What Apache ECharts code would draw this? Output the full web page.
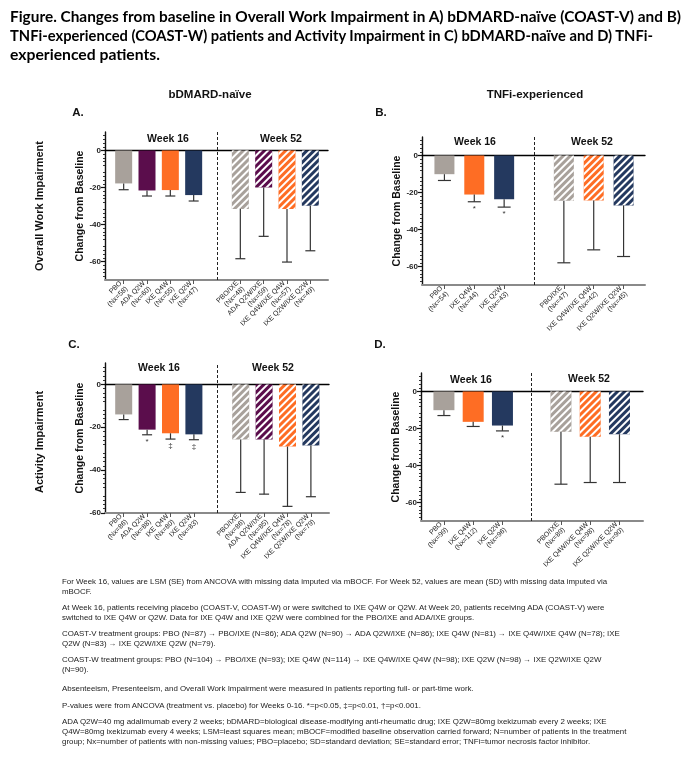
<!DOCTYPE html>
<html><head><meta charset="utf-8">
<script src="https://cdn.jsdelivr.net/npm/echarts@6/dist/echarts.min.js"></script>
<style>
html,body{margin:0;padding:0;background:#fff;width:690px;height:758px;overflow:hidden}
#chart{position:absolute;left:0;top:0;width:690px;height:758px}
#title{position:absolute;left:10px;top:7px;font-family:Lato,'Open Sans',sans-serif;font-weight:bold;font-size:14.5px;line-height:19px;color:#000}
#title .tl{display:block;white-space:nowrap;transform-origin:0 50%;width:max-content}
#notes{position:absolute;left:62px;top:577px;font-family:'Liberation Sans',Arial,sans-serif;font-size:7.9px;line-height:10px;color:#222}
#notes p{margin:0 0 6px 0;white-space:nowrap}
</style></head>
<body>
<div id="chart"></div>
<div id="title">
<span class="tl" data-w="671">Figure. Changes from baseline in Overall Work Impairment in A) bDMARD-naïve (COAST-V) and B)</span>
<span class="tl" data-w="643">TNFi-experienced (COAST-W) patients and Activity Impairment in C) bDMARD-naïve and D) TNFi-</span>
<span class="tl" data-w="150">experienced patients.</span>
</div>
<div id="notes">
<p>For Week 16, values are LSM (SE) from ANCOVA with missing data imputed via mBOCF. For Week 52, values are mean (SD) with missing data imputed via<br>mBOCF.</p>
<p>At Week 16, patients receiving placebo (COAST-V, COAST-W) or were switched to IXE Q4W or Q2W. At Week 20, patients receiving ADA (COAST-V) were<br>switched to IXE Q4W or Q2W. Data for IXE Q4W and IXE Q2W were combined for the PBO/IXE and ADA/IXE groups.</p>
<p>COAST-V treatment groups: PBO (N=87) → PBO/IXE (N=86); ADA Q2W (N=90) → ADA Q2W/IXE (N=86); IXE Q4W (N=81) → IXE Q4W/IXE Q4W (N=78); IXE<br>Q2W (N=83) → IXE Q2W/IXE Q2W (N=79).</p>
<p>COAST-W treatment groups: PBO (N=104) → PBO/IXE (N=93); IXE Q4W (N=114) → IXE Q4W/IXE Q4W (N=98); IXE Q2W (N=98) → IXE Q2W/IXE Q2W<br>(N=90).</p>
<p style="margin-top:9px">Absenteeism, Presenteeism, and Overall Work Impairment were measured in patients reporting full- or part-time work.</p>
<p style="margin-top:7px">P-values were from ANCOVA (treatment vs. placebo) for Weeks 0-16. *=p&lt;0.05, ‡=p&lt;0.01, †=p&lt;0.001.</p>
<p>ADA Q2W=40 mg adalimumab every 2 weeks; bDMARD=biological disease-modifying anti-rheumatic drug; IXE Q2W=80mg ixekizumab every 2 weeks; IXE<br>Q4W=80mg ixekizumab every 4 weeks; LSM=least squares mean; mBOCF=modified baseline observation carried forward; N=number of patients in the treatment<br>group; Nx=number of patients with non-missing values; PBO=placebo; SD=standard deviation; SE=standard error; TNFi=tumor necrosis factor inhibitor.</p>
</div>
<script>
// ---------- DATA ----------
// Panel A: Overall Work Impairment, bDMARD-naive
const catsA16 = ['PBO\n(Nx=58)', 'ADA Q2W\n(Nx=60)', 'IXE Q4W\n(Nx=55)', 'IXE Q2W\n(Nx=47)'];
const valsA16 = [-17.8, -21.6, -21.4, -24.1];
const errA16  = [3.4, 3.0, 3.2, 3.2];
const sigA16  = ['', '', '', ''];
const catsA52 = ['PBO/IXE\n(Nx=48)', 'ADA Q2W/IXE\n(Nx=59)', 'IXE Q4W/IXE Q4W\n(Nx=57)', 'IXE Q2W/IXE Q2W\n(Nx=49)'];
const valsA52 = [-31.6, -20.0, -31.6, -29.8];
const errA52  = [26.9, 26.4, 28.7, 24.4];

// Panel B: Overall Work Impairment, TNFi-experienced
const catsB16 = ['PBO\n(Nx=54)', 'IXE Q4W\n(Nx=44)', 'IXE Q2W\n(Nx=43)'];
const valsB16 = [-10.1, -21.1, -23.6];
const errB16  = [3.4, 3.9, 4.3];
const sigB16  = ['', '*', '*'];
const catsB52 = ['PBO/IXE\n(Nx=47)', 'IXE Q4W/IXE Q4W\n(Nx=42)', 'IXE Q2W/IXE Q2W\n(Nx=45)'];
const valsB52 = [-24.5, -24.3, -27.0];
const errB52  = [33.5, 26.7, 27.6];

// Panel C: Activity Impairment, bDMARD-naive
const catsC16 = ['PBO\n(Nx=86)', 'ADA Q2W\n(Nx=88)', 'IXE Q4W\n(Nx=80)', 'IXE Q2W\n(Nx=83)'];
const valsC16 = [-14.0, -21.1, -22.8, -23.3];
const errC16  = [2.4, 2.4, 2.7, 2.5];
const sigC16  = ['', '*', '‡', '‡'];
const catsC52 = ['PBO/IXE\n(Nx=86)', 'ADA Q2W/IXE\n(Nx=85)', 'IXE Q4W/IXE Q4W\n(Nx=78)', 'IXE Q2W/IXE Q2W\n(Nx=79)'];
const valsC52 = [-25.7, -25.7, -29.0, -28.5];
const errC52  = [24.7, 25.5, 27.9, 23.9];

// Panel D: Activity Impairment, TNFi-experienced
const catsD16 = ['PBO\n(Nx=99)', 'IXE Q4W\n(Nx=112)', 'IXE Q2W\n(Nx=96)'];
const valsD16 = [-10.1, -16.4, -18.4];
const errD16  = [2.9, 2.5, 2.9];
const sigD16  = ['', '', '*'];
const catsD52 = ['PBO/IXE\n(Nx=89)', 'IXE Q4W/IXE Q4W\n(Nx=98)', 'IXE Q2W/IXE Q2W\n(Nx=90)'];
const valsD52 = [-21.8, -24.5, -23.1];
const errD52  = [28.3, 24.7, 26.1];

// Y tick labels
const yTicksAB = [0, -20, -40, -60];
const yTicksC  = [0, -20, -40, -60];

// ---------- STYLES ----------
const C_PBO = '#a8a19b', C_ADA = '#5b0d4c', C_Q4W = '#fe6d24', C_Q2W = '#24395f';
const colorsNaive = [C_PBO, C_ADA, C_Q4W, C_Q2W];
const colorsExp   = [C_PBO, C_Q4W, C_Q2W];
const FONT = "'Liberation Sans', Arial, sans-serif";

const panels = [
  { cats16: catsA16, vals16: valsA16, err16: errA16, sig16: sigA16, cats52: catsA52, vals52: valsA52, err52: errA52,
    colors: colorsNaive, yMin: -70, yMax: 10, yTicks: yTicksAB,
    geo: { left: 105, top: 132, width: 223, height: 148, barLeft: 112, barWidth: 210, bw: 17, cap: 5 } },
  { cats16: catsB16, vals16: valsB16, err16: errB16, sig16: sigB16, cats52: catsB52, vals52: valsB52, err52: errB52,
    colors: colorsExp, yMin: -70, yMax: 10, yTicks: yTicksAB,
    geo: { left: 422, top: 137, width: 223, height: 148, barLeft: 429.5, barWidth: 209, bw: 20, cap: 6.5 } },
  { cats16: catsC16, vals16: valsC16, err16: errC16, sig16: sigC16, cats52: catsC52, vals52: valsC52, err52: errC52,
    colors: colorsNaive, yMin: -60, yMax: 10, yTicks: yTicksC,
    geo: { left: 105, top: 363, width: 224, height: 150, barLeft: 112, barWidth: 210.6, bw: 17, cap: 5 } },
  { cats16: catsD16, vals16: valsD16, err16: errD16, sig16: sigD16, cats52: catsD52, vals52: valsD52, err52: errD52,
    colors: colorsExp, yMin: -70, yMax: 10, yTicks: yTicksAB,
    geo: { left: 421, top: 373, width: 222, height: 148, barLeft: 429.3, barWidth: 204.8, bw: 21, cap: 6.5 } }
];

function hatch() {
  return { symbol: 'rect', symbolSize: 1, color: '#ffffff', dashArrayX: [1, 0], dashArrayY: [2, 3], rotation: -Math.PI / 4 };
}

const option = { animation: false, textStyle: { fontFamily: FONT }, grid: [], xAxis: [], yAxis: [], series: [], graphic: [] };

panels.forEach((p) => {
  const g = p.geo;
  const gi = option.grid.length;
  option.grid.push({ left: g.left, top: g.top, width: g.width, height: g.height });
  option.grid.push({ left: g.barLeft, top: g.top, width: g.barWidth, height: g.height });
  const xi = option.xAxis.length;
  option.xAxis.push({ type: 'value', gridIndex: gi, min: 0, max: 1, position: 'bottom',
    axisLine: { show: true, onZero: false, lineStyle: { color: '#8a8a8a', width: 2 } },
    axisTick: { show: false }, axisLabel: { show: false }, splitLine: { show: false } });
  option.xAxis.push({ type: 'value', gridIndex: gi, min: 0, max: 1, position: 'top',
    axisLine: { show: true, onZero: true, lineStyle: { color: '#000', width: 1.4 } },
    axisTick: { show: false }, axisLabel: { show: false }, splitLine: { show: false } });
  const cats = [...p.cats16, '', ...p.cats52];
  const gapIdx = p.cats16.length;
  option.xAxis.push({ type: 'category', gridIndex: gi + 1, data: cats, position: 'bottom',
    axisLine: { show: false, onZero: false },
    axisTick: { show: true, alignWithLabel: true, length: 4, interval: (i, v) => v !== '', lineStyle: { color: '#555', width: 1 } },
    axisLabel: { interval: 0, rotate: 45, fontSize: 7, lineHeight: 8, color: '#222', margin: 5 } });
  const yi = option.yAxis.length;
  option.yAxis.push({ type: 'value', gridIndex: gi, min: p.yMin, max: p.yMax, interval: 10, position: 'left',
    name: 'Change from Baseline', nameLocation: 'middle', nameGap: 17,
    nameTextStyle: { fontWeight: 'bold', fontSize: 10.5, color: '#111' },
    axisLine: { show: true, onZero: false, lineStyle: { color: '#111', width: 1.4 } },
    axisTick: { show: true, length: 4, customValues: p.yTicks, lineStyle: { color: '#111', width: 1.2 } },
    minorTick: { show: true, splitNumber: 5, length: 2, lineStyle: { color: '#333', width: 1 } },
    axisLabel: { customValues: p.yTicks, fontSize: 8, fontWeight: 'bold', color: '#222', margin: 4 },
    splitLine: { show: false } });
  option.yAxis.push({ type: 'value', gridIndex: gi + 1, min: p.yMin, max: p.yMax, interval: 10, show: false });

  const items = [];
  p.vals16.forEach((v, i) => items.push({ value: v, itemStyle: { color: p.colors[i] } }));
  items.push('-');
  p.vals52.forEach((v, i) => items.push({ value: v, itemStyle: { color: p.colors[i], decal: hatch() } }));
  option.series.push({ type: 'bar', xAxisIndex: xi + 2, yAxisIndex: yi + 1, barWidth: g.bw, data: items, z: 2,
    markLine: { silent: true, symbol: 'none', label: { show: false },
      lineStyle: { type: [3, 2], color: '#222', width: 1 }, data: [{ xAxis: gapIdx }] } });

  const errData = [], sigs = [];
  p.vals16.forEach((v, i) => { errData.push([i, v, v - p.err16[i]]); sigs.push(p.sig16[i]); });
  p.vals52.forEach((v, i) => { errData.push([gapIdx + 1 + i, v, v - p.err52[i]]); sigs.push(''); });
  option.series.push({ type: 'custom', xAxisIndex: xi + 2, yAxisIndex: yi + 1, z: 3, data: errData,
    renderItem: (params, api) => {
      const a = api.coord([api.value(0), api.value(1)]);
      const b = api.coord([api.value(0), api.value(2)]);
      const st = { stroke: '#333', lineWidth: 1.2 };
      const ch = [
        { type: 'line', shape: { x1: a[0], y1: a[1], x2: b[0], y2: b[1] }, style: st },
        { type: 'line', shape: { x1: b[0] - g.cap, y1: b[1], x2: b[0] + g.cap, y2: b[1] }, style: st }
      ];
      const s = sigs[params.dataIndex];
      if (s) ch.push({ type: 'text', style: { text: s, x: b[0], y: b[1] + 3, align: 'center', verticalAlign: 'top', fontSize: 8, fill: '#333', fontFamily: FONT } });
      return { type: 'group', children: ch };
    } });
});

function txt(x, y, text, size, extra) {
  return Object.assign({ type: 'text', x: x, y: y, silent: true,
    style: { text: text, fontSize: size, fontWeight: 'bold', fill: '#111', fontFamily: FONT, align: 'center', verticalAlign: 'middle' } }, extra || {});
}
option.graphic = [
  txt(210, 95, 'bDMARD-naïve', 11.5),
  txt(535, 95, 'TNFi-experienced', 11.5),
  txt(78, 113, 'A.', 11.5),
  txt(381, 113, 'B.', 11.5),
  txt(74, 345, 'C.', 11.5),
  txt(380, 345, 'D.', 11.5),
  txt(168, 139, 'Week 16', 10.5), txt(281, 139, 'Week 52', 10.5),
  txt(475, 142, 'Week 16', 10.5), txt(592, 142, 'Week 52', 10.5),
  txt(159, 368, 'Week 16', 10.5), txt(273, 368, 'Week 52', 10.5),
  txt(471, 380, 'Week 16', 10.5), txt(589, 379, 'Week 52', 10.5),
  txt(40, 206, 'Overall Work Impairment', 11, { rotation: Math.PI / 2 }),
  txt(40, 442, 'Activity Impairment', 11, { rotation: Math.PI / 2 })
];

const chart = echarts.init(document.getElementById('chart'), null, { renderer: 'canvas' });
chart.setOption(option);

document.querySelectorAll('#title .tl').forEach((el) => {
  const w = el.getBoundingClientRect().width;
  const t = parseFloat(el.getAttribute('data-w'));
  if (w > 0) el.style.transform = 'scaleX(' + (t / w) + ')';
});
</script>
</body></html>
